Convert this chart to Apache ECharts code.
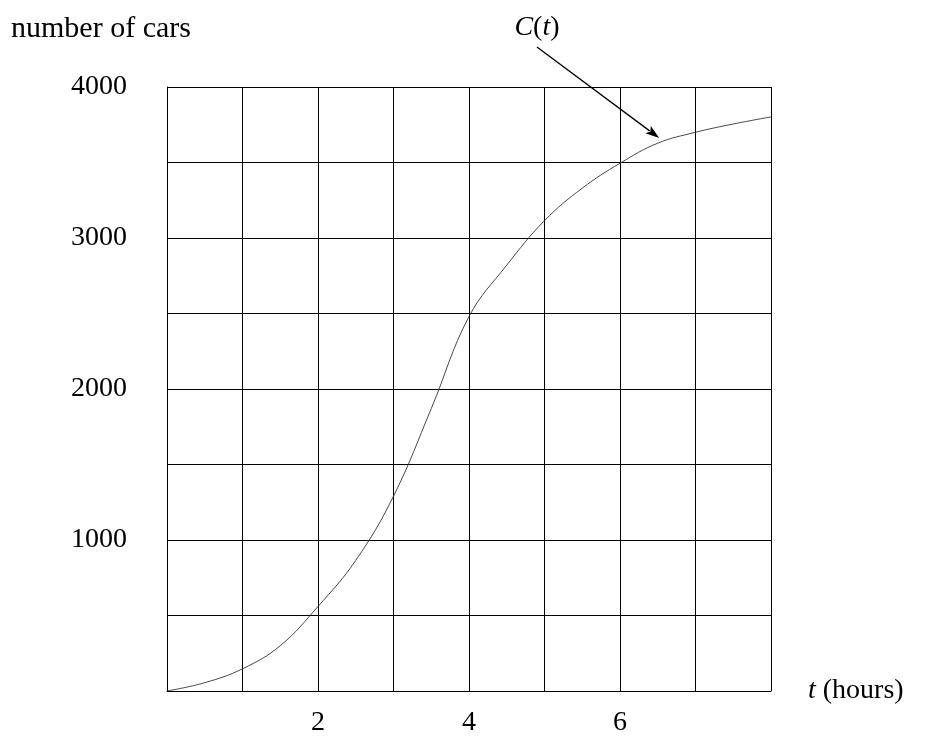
<!DOCTYPE html>
<html><head><meta charset="utf-8">
<script src="https://cdn.jsdelivr.net/npm/echarts@6/dist/echarts.min.js"></script>
<style>html,body{margin:0;padding:0;background:#fff}#c{width:925px;height:749px}</style>
</head><body><div id="c"></div>
<script>
// ---- data ----
const hours = [0, 0.5, 1, 1.5, 2, 2.5, 3, 3.5, 4, 4.5, 5, 5.5, 6, 6.5, 7, 7.5, 8];
const cars  = [0, 55, 147, 300, 560, 865, 1290, 1870, 2480, 2820, 3115, 3330, 3495, 3628, 3700, 3755, 3802];
const xTickLabels = [2, 4, 6];
const yTickLabels = [1000, 2000, 3000, 4000];
const yTitle = 'number of cars';
const arrowFrom = [4.9, 4265];
const arrowTo = [6.52, 3662];

const FONT = '"Liberation Serif", "Times New Roman", serif';
const FS = 28;

const chart = echarts.init(document.getElementById('c'), null, {renderer: 'canvas'});
const points = hours.map((h, i) => [h, cars[i]]);

chart.setOption({
  animation: false,
  backgroundColor: '#fff',
  title: {
    text: yTitle, left: 6, top: 9,
    textStyle: {fontFamily: FONT, fontSize: 30, fontWeight: 'normal', color: '#000'}
  },
  grid: {left: 167, top: 87, width: 604, height: 604, containLabel: false},
  xAxis: {
    type: 'value', min: 0, max: 8, interval: 1,
    name: '{it|t} (hours)', nameLocation: 'end', nameGap: 37,
    nameTextStyle: {fontFamily: FONT, fontSize: FS, color: '#000', verticalAlign: 'middle', align: 'left',
      rich: {it: {fontFamily: FONT, fontSize: FS, fontStyle: 'italic', color: '#000'}}},
    axisLine: {show: true, lineStyle: {color: '#000', width: 1}},
    axisTick: {show: false},
    splitLine: {show: true, lineStyle: {color: '#000', width: 1}},
    axisLabel: {
      margin: 18, fontFamily: FONT, fontSize: FS, color: '#000',
      formatter: v => xTickLabels.includes(v) ? String(v) : ''
    }
  },
  yAxis: {
    type: 'value', min: 0, max: 4000, interval: 500,
    axisLine: {show: true, lineStyle: {color: '#000', width: 1}},
    axisTick: {show: false},
    splitLine: {show: true, lineStyle: {color: '#000', width: 1}},
    axisLabel: {
      margin: 40, fontFamily: FONT, fontSize: FS, color: '#000',
      formatter: v => yTickLabels.includes(v) ? String(v) : ''
    }
  },
  series: [{
    type: 'line', data: points, smooth: 0.4,
    showSymbol: false, symbol: 'none',
    lineStyle: {color: '#333', width: 0.9}
  }]
});

// annotation arrow + label, positioned through the chart's scales
const p0 = chart.convertToPixel({xAxisIndex: 0, yAxisIndex: 0}, arrowFrom);
const p1 = chart.convertToPixel({xAxisIndex: 0, yAxisIndex: 0}, arrowTo);
const dx = p1[0] - p0[0], dy = p1[1] - p0[1];
const len = Math.hypot(dx, dy);
const ux = dx / len, uy = dy / len;
const nx = -uy, ny = ux;
const headL = 14, headW = 4.5;
const bx = p1[0] - ux * headL, by = p1[1] - uy * headL;

chart.setOption({
  graphic: [
    {type: 'line', shape: {x1: p0[0], y1: p0[1], x2: bx + ux * 2, y2: by + uy * 2},
     style: {stroke: '#000', lineWidth: 1.3}, silent: true},
    {type: 'polygon', shape: {points: [[p1[0], p1[1]], [bx + nx * headW, by + ny * headW], [bx + ux * 3, by + uy * 3], [bx - nx * headW, by - ny * headW]]},
     style: {fill: '#000'}, silent: true},
    {type: 'text', x: p0[0], y: p0[1] - 5,
     style: {text: '{i|C}({i|t})', fontFamily: FONT, fontSize: FS, fill: '#000', align: 'center', verticalAlign: 'bottom',
       rich: {i: {fontFamily: FONT, fontSize: FS, fontStyle: 'italic', fill: '#000'}}}, silent: true}
  ]
});
</script>
</body></html>
